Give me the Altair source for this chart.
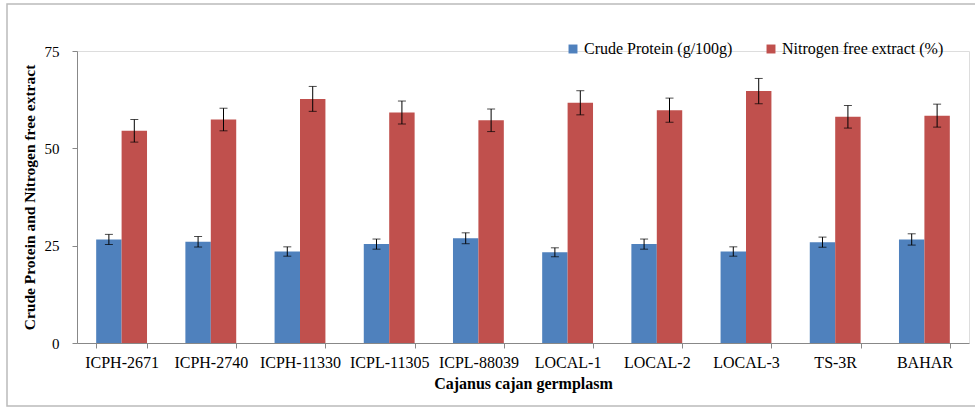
import altair as alt
import pandas as pd

categories = ["ICPH-2671", "ICPH-2740", "ICPH-11330", "ICPL-11305", "ICPL-88039",
              "LOCAL-1", "LOCAL-2", "LOCAL-3", "TS-3R", "BAHAR"]
series = ["Crude Protein (g/100g)", "Nitrogen free extract (%)"]
protein = [26.6, 26.0, 23.5, 25.4, 26.9, 23.3, 25.4, 23.5, 25.9, 26.6]
protein_err = [1.3, 1.35, 1.2, 1.3, 1.4, 1.15, 1.3, 1.2, 1.3, 1.45]
nfe = [54.5, 57.4, 62.7, 59.2, 57.2, 61.7, 59.8, 64.7, 58.1, 58.4]
nfe_err = [2.9, 2.9, 3.2, 2.95, 2.9, 3.1, 3.1, 3.25, 2.9, 2.95]
colors = ["#4F81BD", "#C0504D"]

rows = []
for c, v, e in zip(categories, protein, protein_err):
    rows.append({"cat": c, "series": series[0], "value": v, "lo": v - e, "hi": v + e})
for c, v, e in zip(categories, nfe, nfe_err):
    rows.append({"cat": c, "series": series[1], "value": v, "lo": v - e, "hi": v + e})
df = pd.DataFrame(rows)

FONT = "Liberation Serif"

x = alt.X("cat:N", sort=categories,
          scale=alt.Scale(paddingInner=0.43, paddingOuter=0.215),
          axis=alt.Axis(title="Cajanus cajan germplasm", labelAngle=0, tickBand="extent",
                        labelFontSize=16, labelFont=FONT, labelColor="#000",
                        titleFont=FONT, titleFontSize=16, titleFontWeight="bold",
                        titleColor="#000", titlePadding=5, labelPadding=6,
                        domainColor="#888", tickColor="#888", tickSize=5))
xoff = alt.XOffset("series:N", sort=series)
y = alt.Y("value:Q", scale=alt.Scale(domain=[0, 75], nice=False),
          axis=alt.Axis(title="Crude Protein and Nitrogen free extract", values=[0, 25, 50, 75],
                        grid=False, labelFontSize=15, labelFont=FONT, labelColor="#000",
                        titleFont=FONT, titleFontSize=15.5, titleFontWeight="bold",
                        titleColor="#000", titlePadding=7, labelPadding=13,
                        domainColor="#888", tickColor="#888", tickSize=5))

bars = alt.Chart(df).mark_bar().encode(
    x=x, xOffset=xoff, y=y,
    color=alt.Color("series:N", sort=series,
                    scale=alt.Scale(domain=series, range=colors),
                    legend=alt.Legend(title=None, orient="none", direction="horizontal",
                                      legendX=488, legendY=-10, symbolType="square",
                                      symbolSize=80, symbolStrokeWidth=0,
                                      labelFont=FONT, labelFontSize=16, labelColor="#000",
                                      labelOffset=3, columnPadding=30, labelLimit=300)),
)

rules = alt.Chart(df).mark_rule(color="#000", strokeWidth=1).encode(
    x=alt.X("cat:N", sort=categories), xOffset=xoff,
    y=alt.Y("lo:Q"), y2="hi:Q")
caps_lo = alt.Chart(df).mark_tick(color="#000", thickness=1, size=8).encode(
    x=alt.X("cat:N", sort=categories), xOffset=xoff, y=alt.Y("lo:Q"))
caps_hi = alt.Chart(df).mark_tick(color="#000", thickness=1, size=8).encode(
    x=alt.X("cat:N", sort=categories), xOffset=xoff, y=alt.Y("hi:Q"))

frame = alt.Chart(pd.DataFrame({"a": [0]})).mark_rect(
    fill=None, stroke="#bbbbbb", strokeWidth=1.5).encode(
    x=alt.value(-70), x2=alt.value(905), y=alt.value(-47), y2=alt.value(355))

chart = alt.layer(frame, bars, rules, caps_lo, caps_hi).properties(
    width=892, height=292,
    padding={"left": 77, "top": 51, "right": 6, "bottom": 64},
    autosize=alt.AutoSizeParams(type="none"),
).configure_view(stroke=None).configure(background="white", font=FONT)

chart.save("out.html", embed_options={"renderer": "svg", "actions": False})
